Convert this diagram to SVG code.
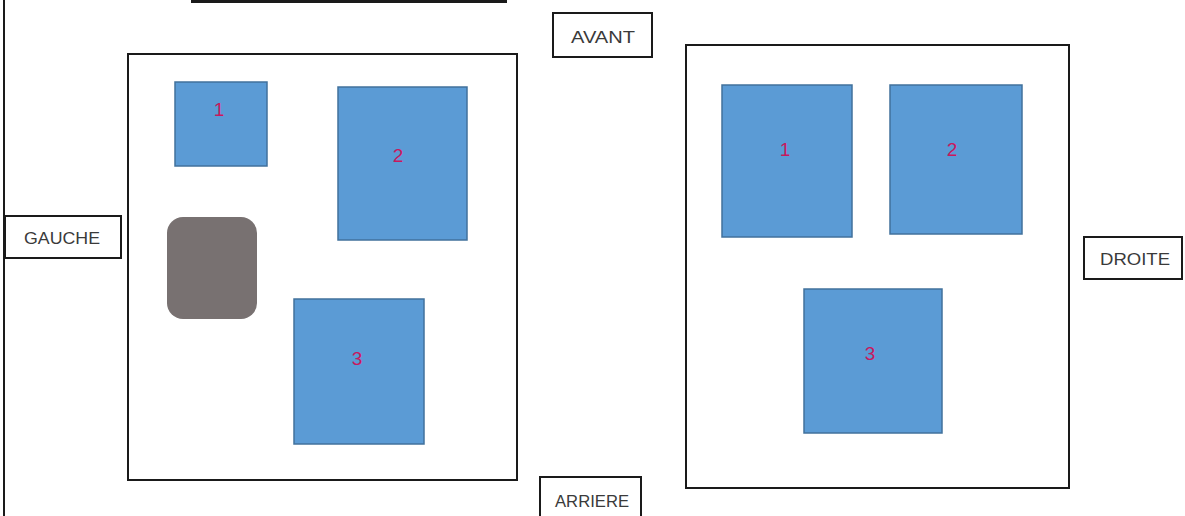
<svg xmlns="http://www.w3.org/2000/svg" width="1185" height="516" viewBox="0 0 1185 516">
<style>
.frame{fill:#fff;stroke:#1a1a1a;stroke-width:2}
.lbl{fill:#fff;stroke:#1a1a1a;stroke-width:2}
.lt{font-family:"Liberation Sans",Arial,sans-serif;font-size:16px;fill:#3a3a3a;text-anchor:middle;dominant-baseline:central}
.blk{fill:#5B9BD5;stroke:#41719C;stroke-width:1.5}
.num{font-family:"Liberation Sans",Arial,sans-serif;font-size:19px;fill:#C8185E;text-anchor:middle;dominant-baseline:central}
.line{stroke:#1a1a1a;stroke-width:2;fill:none}
</style>
<rect width="1185" height="516" fill="#fff"/>
<g id="edge-lines">
<line class="line" x1="4" y1="0" x2="4" y2="516"/>
<line x1="191" y1="1.5" x2="507" y2="1.5" stroke="#1a1a1a" stroke-width="3"/>
</g>
<g id="left-plan">
<rect class="frame" x="128" y="54" width="389" height="426"/>
</g>
<g id="right-plan">
<rect class="frame" x="686" y="45" width="383" height="443"/>
</g>
<g id="avant"><rect class="lbl" x="553" y="13" width="99" height="44"/><text class="lt" x="603" y="37" textLength="64" lengthAdjust="spacingAndGlyphs">AVANT</text></g>
<g id="arriere"><rect class="lbl" x="540" y="477" width="101" height="50"/><text class="lt" x="592" y="501" textLength="74" lengthAdjust="spacingAndGlyphs">ARRIERE</text></g>
<g id="gauche"><rect class="lbl" x="5" y="216" width="116" height="42"/><text class="lt" x="62" y="238" textLength="76" lengthAdjust="spacingAndGlyphs">GAUCHE</text></g>
<g id="droite"><rect class="lbl" x="1084" y="237" width="98" height="42"/><text class="lt" x="1135" y="259" textLength="70" lengthAdjust="spacingAndGlyphs">DROITE</text></g>
<g id="left-1"><rect class="blk" x="175" y="82" width="92" height="84"/><text class="num" x="219" y="109">1</text></g>
<g id="left-2"><rect class="blk" x="338" y="87" width="129" height="153"/><text class="num" x="398" y="155">2</text></g>
<g id="left-grey"><rect x="167" y="217" width="90" height="102" rx="16" fill="#787171"/></g>
<g id="left-3"><rect class="blk" x="294" y="299" width="130" height="145"/><text class="num" x="357" y="358">3</text></g>
<g id="right-1"><rect class="blk" x="722" y="85" width="130" height="152"/><text class="num" x="785" y="149">1</text></g>
<g id="right-2"><rect class="blk" x="890" y="85" width="132" height="149"/><text class="num" x="952" y="149">2</text></g>
<g id="right-3"><rect class="blk" x="804" y="289" width="138" height="144"/><text class="num" x="870" y="353">3</text></g>
<g id="connectors"></g>
</svg>
